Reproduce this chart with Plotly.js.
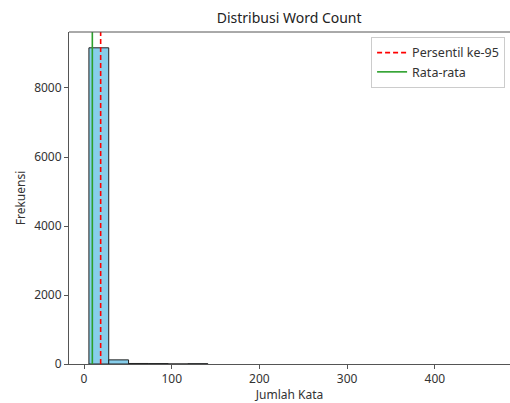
<!DOCTYPE html>
<html><head><meta charset="utf-8">
<script src="https://cdn.plot.ly/plotly-3.0.1.min.js"></script>
<style>body{margin:0;background:#fff}#c{width:510px;height:403px}</style>
</head><body><div id="c"></div>
<script>
const binEdges = [5.6, 28.2, 50.8, 73.4, 96.0, 118.6, 141.2];
const counts = [9165, 120, 15, 12, 0, 8];
const meanValue = 9.5;
const p95Value = 19;
const yMax = 9623;
const xTicks = [0, 100, 200, 300, 400];
const yTicks = [0, 2000, 4000, 6000, 8000];

const centers = counts.map((_, i) => (binEdges[i] + binEdges[i+1]) / 2);
const widths = counts.map((_, i) => binEdges[i+1] - binEdges[i]);

const traces = [
  {type:'bar', x:centers, y:counts, width:widths, showlegend:false,
   marker:{color:'#87CEEB', line:{color:'#222', width:1}}, hoverinfo:'x+y'},
  {type:'scatter', mode:'lines', x:[p95Value,p95Value], y:[0,yMax], name:'Persentil ke-95',
   line:{color:'#ff0000', dash:'5px,3px', width:1.6}},
  {type:'scatter', mode:'lines', x:[meanValue,meanValue], y:[0,yMax], name:'Rata-rata',
   line:{color:'#2ca02c', width:1.6}}
];

const fam = 'Noto Sans, Open Sans, sans-serif';
const layout = {
  width:510, height:403,
  margin:{l:69, r:0, t:32, b:39},
  paper_bgcolor:'#fff', plot_bgcolor:'#fff',
  font:{family:fam, size:12, color:'#333'},
  title:{text:'Distribusi Word Count', x:0.567, xanchor:'center', y:0.955, yanchor:'middle', font:{family:fam, size:14, color:'#222'}},
  xaxis:{range:[-17.1, 485.7], tickvals:xTicks, showgrid:false, zeroline:false,
    showline:true, linecolor:'#555', linewidth:1, mirror:false, ticks:'outside', ticklen:4, tickcolor:'#555',
    tickfont:{family:fam, size:12, color:'#333'},
    title:{text:'Jumlah Kata', standoff:3, font:{family:fam, size:12, color:'#333'}}},
  yaxis:{range:[0, yMax], tickvals:yTicks, showgrid:false, zeroline:false,
    showline:true, linecolor:'#555', linewidth:1, ticks:'outside', ticklen:4, tickcolor:'#555',
    tickfont:{family:fam, size:12, color:'#333'},
    title:{text:'Frekuensi', standoff:5, font:{family:fam, size:12, color:'#333'}}},
  shapes:[{type:'line', xref:'paper', yref:'paper', x0:0, x1:1, y0:1, y1:1, line:{color:'#555', width:1}}],
  legend:{x:0.685, y:0.985, xanchor:'left', yanchor:'top', bgcolor:'rgba(255,255,255,0.9)',
    bordercolor:'#ccc', borderwidth:1, font:{family:fam, size:12.5, color:'#333'}},
  bargap:0
};
Plotly.newPlot('c', traces, layout, {displayModeBar:false, staticPlot:true});
</script></body></html>
